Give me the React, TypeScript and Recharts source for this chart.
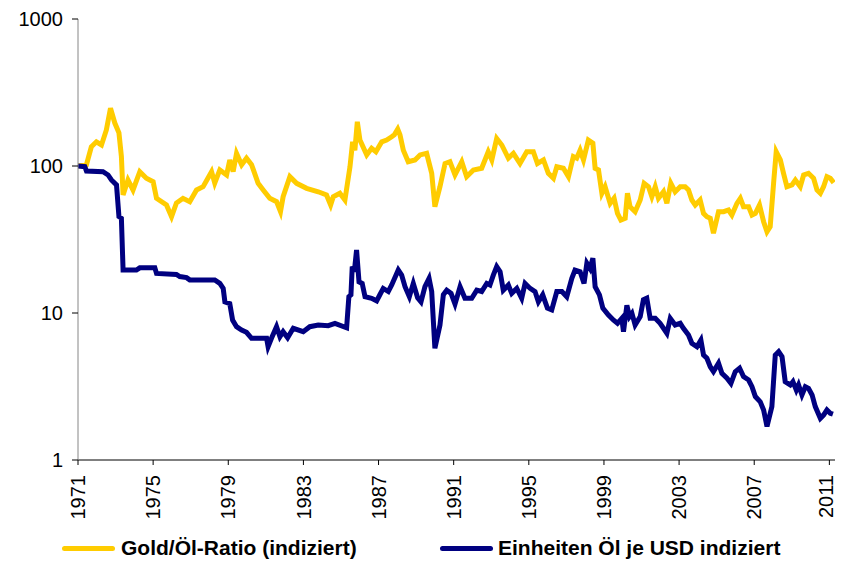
import React from "react";
import { LineChart, Line, XAxis, YAxis } from "recharts";

// [year, index value]
const goldOilRatio: [number, number][] = [
  [1971.0, 100], [1971.45, 102], [1971.71, 135], [1971.98, 146], [1972.25, 139], [1972.51, 176], [1972.73, 247],
  [1972.96, 196], [1973.18, 168], [1973.31, 116], [1973.4, 63.5], [1973.66, 80.3], [1973.93, 68.7], [1974.29, 91.5],
  [1974.64, 82.5], [1975.0, 78.2], [1975.18, 60.3], [1975.71, 54.3], [1975.98, 45.2], [1976.24, 56.0], [1976.59, 60.3],
  [1976.95, 57.2], [1977.31, 68.7], [1977.66, 72.3], [1978.11, 91.5], [1978.28, 76.6], [1978.55, 94], [1978.91, 86.9],
  [1979.08, 110], [1979.26, 91.5], [1979.44, 122], [1979.71, 102], [1979.97, 113], [1980.24, 102], [1980.59, 76.2],
  [1980.86, 68.7], [1981.21, 60.3], [1981.57, 57.2], [1981.78, 48.9], [1981.92, 61.8], [1982.28, 84.6], [1982.64, 76.2],
  [1983.17, 70.5], [1983.79, 66.8], [1984.23, 63.5], [1984.45, 54.3], [1984.59, 61.8], [1984.94, 65.2], [1985.21, 58.7],
  [1985.48, 98.9], [1985.62, 146], [1985.74, 128], [1985.87, 200], [1986.01, 150], [1986.37, 119], [1986.63, 132],
  [1986.86, 125], [1987.17, 146], [1987.43, 150], [1987.7, 158], [1987.84, 163], [1988.02, 178], [1988.14, 163],
  [1988.32, 128], [1988.58, 107], [1988.94, 110], [1989.21, 119], [1989.56, 122], [1989.83, 89.2], [1990.0, 52.9],
  [1990.27, 72.3], [1990.54, 104], [1990.8, 107], [1991.07, 86.9], [1991.43, 107], [1991.69, 84.6], [1992.05, 94],
  [1992.49, 96.5], [1992.84, 125], [1993.03, 110], [1993.29, 154], [1993.56, 139], [1993.91, 113], [1994.18, 122],
  [1994.53, 104], [1994.89, 125], [1995.24, 125], [1995.46, 104], [1995.78, 110], [1996.04, 89.2], [1996.31, 82.5],
  [1996.49, 98.9], [1996.84, 96.5], [1997.11, 84.6], [1997.37, 116], [1997.55, 113], [1997.73, 128], [1997.91, 110],
  [1998.17, 150], [1998.41, 143], [1998.53, 96.5], [1998.71, 94], [1998.89, 65.2], [1999.06, 72.3], [1999.33, 55.7],
  [1999.54, 60.3], [1999.72, 47.6], [1999.9, 42.9], [2000.13, 44.1], [2000.25, 65.2], [2000.39, 52.9], [2000.66, 48.9],
  [2000.93, 58.7], [2001.14, 76.2], [2001.37, 72.3], [2001.55, 61.8], [2001.73, 72.3], [2001.9, 60.3], [2002.17, 66.8],
  [2002.35, 55.7], [2002.56, 76.2], [2002.79, 66.8], [2003.06, 72.3], [2003.32, 72.3], [2003.5, 68.7], [2003.68, 58.7],
  [2003.86, 54.3], [2004.12, 58.7], [2004.3, 47.6], [2004.48, 45.2], [2004.66, 44.1], [2004.83, 34.9], [2005.1, 48.9],
  [2005.37, 48.9], [2005.63, 50.2], [2005.81, 46.4], [2006.08, 55.7], [2006.26, 60.3], [2006.43, 52.9], [2006.7, 52.9],
  [2006.88, 46.4], [2007.06, 47.6], [2007.28, 54.3], [2007.5, 41.8], [2007.68, 35.7], [2007.85, 38.6], [2008.03, 76.2],
  [2008.17, 125], [2008.39, 110], [2008.56, 89.2], [2008.74, 72.3], [2009.01, 74.3], [2009.19, 80.3], [2009.45, 72.3],
  [2009.63, 86.9], [2009.89, 89.2], [2010.16, 82.5], [2010.34, 68.7], [2010.52, 65.2], [2010.69, 72.3], [2010.87, 84.6],
  [2011.05, 82.5], [2011.23, 77],
];

const oilPerUsd: [number, number][] = [
  [1971.0, 100], [1971.36, 99], [1971.45, 92.5], [1972.33, 91.5], [1972.6, 86.9], [1972.78, 80.3], [1973.05, 74.3],
  [1973.18, 45.2], [1973.31, 44.1], [1973.4, 19.6], [1974.11, 19.6], [1974.29, 20.3], [1975.09, 20.3], [1975.18, 18.6],
  [1976.24, 18.3], [1976.42, 17.7], [1976.78, 17.4], [1976.95, 16.8], [1978.28, 16.8], [1978.55, 15.9], [1978.73, 14.7],
  [1978.82, 11.9], [1979.08, 11.6], [1979.23, 8.96], [1979.44, 8.07], [1979.71, 7.66], [1979.97, 7.39], [1980.24, 6.73],
  [1981.04, 6.73], [1981.12, 5.9], [1981.3, 6.73], [1981.57, 8.07], [1981.75, 6.9], [1981.92, 7.46], [1982.16, 6.79],
  [1982.46, 7.87], [1982.99, 7.46], [1983.34, 8.07], [1983.79, 8.29], [1984.32, 8.2], [1984.68, 8.51], [1985.3, 7.94],
  [1985.42, 12.9], [1985.53, 13.3], [1985.6, 20.7], [1985.71, 19.1], [1985.83, 26.8], [1985.96, 16.3], [1986.13, 15.9],
  [1986.28, 12.9], [1986.63, 12.6], [1986.9, 12.1], [1987.07, 13.3], [1987.25, 14.7], [1987.52, 14.0], [1987.7, 15.5],
  [1988.05, 19.6], [1988.23, 18.1], [1988.41, 15.1], [1988.64, 12.9], [1988.85, 15.9], [1989.08, 12.7], [1989.26, 11.9],
  [1989.47, 15.1], [1989.69, 17.2], [1989.83, 14.0], [1990.0, 5.75], [1990.27, 8.29], [1990.45, 13.3], [1990.63, 14.3],
  [1990.86, 13.6], [1991.07, 11.5], [1991.34, 15.1], [1991.6, 12.6], [1991.96, 12.6], [1992.23, 14.3], [1992.49, 14.0],
  [1992.76, 15.9], [1992.93, 15.5], [1993.11, 18.1], [1993.29, 20.7], [1993.47, 19.1], [1993.64, 14.3], [1993.91, 15.5],
  [1994.09, 13.6], [1994.36, 14.7], [1994.62, 12.6], [1994.8, 15.9], [1995.07, 14.7], [1995.33, 14.0], [1995.51, 11.9],
  [1995.74, 13.3], [1995.99, 10.8], [1996.22, 10.5], [1996.49, 14.0], [1996.76, 14.0], [1997.02, 12.9], [1997.29, 17.2],
  [1997.46, 19.6], [1997.73, 19.1], [1997.94, 15.9], [1998.09, 21.8], [1998.26, 20.1], [1998.41, 23.6], [1998.53, 15.1],
  [1998.76, 13.3], [1998.94, 10.8], [1999.24, 9.69], [1999.5, 8.96], [1999.72, 8.51], [1999.95, 9.2], [2000.04, 7.46],
  [2000.22, 11.3], [2000.36, 9.44], [2000.49, 9.95], [2000.66, 8.29], [2000.93, 9.44], [2001.1, 12.3], [2001.28, 12.6],
  [2001.46, 9.2], [2001.73, 9.2], [2001.99, 8.51], [2002.35, 7.28], [2002.53, 9.2], [2002.79, 8.29], [2003.06, 8.51],
  [2003.23, 7.87], [2003.5, 7.08], [2003.68, 6.22], [2003.95, 5.9], [2004.16, 6.55], [2004.3, 5.18], [2004.48, 4.92],
  [2004.66, 4.31], [2004.83, 3.99], [2005.1, 4.55], [2005.28, 3.89], [2005.55, 3.6], [2005.76, 3.32], [2005.99, 3.99],
  [2006.22, 4.21], [2006.43, 3.69], [2006.7, 3.5], [2006.88, 3.15], [2007.06, 2.7], [2007.32, 2.49], [2007.5, 2.19],
  [2007.68, 1.69], [2007.94, 2.31], [2008.12, 5.18], [2008.3, 5.46], [2008.48, 5.04], [2008.65, 3.41], [2008.92, 3.24],
  [2009.06, 3.41], [2009.24, 2.99], [2009.36, 3.24], [2009.54, 2.77], [2009.72, 3.15], [2009.89, 3.07], [2010.08, 2.77],
  [2010.25, 2.31], [2010.52, 1.92], [2010.69, 2.02], [2010.87, 2.19], [2011.05, 2.08], [2011.19, 2.05],
];

const yearTicks = [1971, 1975, 1979, 1983, 1987, 1991, 1995, 1999, 2003, 2007, 2011];
const valueTicks = [1, 10, 100, 1000];

const GOLD = "#FFCC00";
const NAVY = "#000080";
const FONT = "'Liberation Sans', Arial, sans-serif";

const goldData = goldOilRatio.map(([year, v]) => ({ year, v }));
const oilData = oilPerUsd.map(([year, v]) => ({ year, v }));

function YearTick(props: any) {
  const { x, y, payload } = props;
  return (
    <text
      transform={`translate(${x},${y + 8}) rotate(-90)`}
      textAnchor="end"
      dy="0.36em"
      fontSize={20}
      fontFamily={FONT}
      fill="#000"
    >
      {payload.value}
    </text>
  );
}

export default function App() {
  return (
    <div style={{ position: "absolute", left: 0, top: 0, width: 841, height: 571, background: "#fff" }}>
      <LineChart
        width={841}
        height={571}
        margin={{ top: 19, right: 6, bottom: 51, left: 0 }}
      >
        <XAxis
          dataKey="year"
          type="number"
          domain={[1971, 2011.3]}
          ticks={yearTicks}
          allowDataOverflow
          height={60}
          stroke="#000"
          tickSize={5}
          tick={<YearTick />}
        />
        <YAxis
          dataKey="v"
          scale="log"
          type="number"
          domain={[1, 1000]}
          ticks={valueTicks}
          allowDataOverflow
          width={78}
          stroke="#868686"
          tickSize={6}
          tickMargin={9}
          tick={{ fill: "#000", fontSize: 20, fontFamily: FONT }}
          tickLine={{ stroke: "#000" }}
        />
        <Line data={goldData} dataKey="v" type="linear" stroke={GOLD} strokeWidth={5} dot={false} isAnimationActive={false} />
        <Line data={oilData} dataKey="v" type="linear" stroke={NAVY} strokeWidth={5} dot={false} isAnimationActive={false} />
      </LineChart>

      <div
        style={{
          position: "absolute",
          top: 536,
          left: 0,
          width: 841,
          fontFamily: FONT,
          fontWeight: "bold",
          fontSize: 21,
          color: "#000",
        }}
      >
        <div style={{ position: "absolute", left: 62, top: 0, display: "flex", alignItems: "center", whiteSpace: "nowrap" }}>
          <span style={{ display: "inline-block", width: 53, height: 5, background: GOLD, borderRadius: 3, marginRight: 6 }} />
          <span>Gold/Öl-Ratio (indiziert)</span>
        </div>
        <div style={{ position: "absolute", left: 440, top: 0, display: "flex", alignItems: "center", whiteSpace: "nowrap" }}>
          <span style={{ display: "inline-block", width: 53, height: 5, background: NAVY, borderRadius: 3, marginRight: 5 }} />
          <span>Einheiten Öl je USD indiziert</span>
        </div>
      </div>
    </div>
  );
}
